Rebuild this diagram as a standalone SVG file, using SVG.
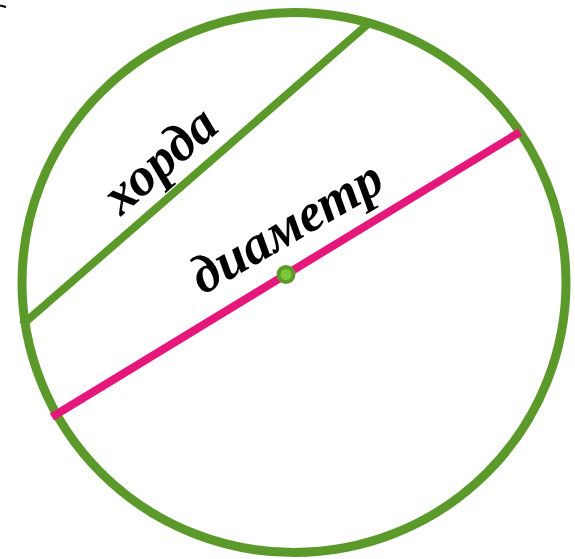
<svg xmlns="http://www.w3.org/2000/svg" width="575" height="559" viewBox="0 0 575 559">
<style>
.g{stroke:#5B9A2A;fill:none}
.lbl{font-family:"Liberation Serif","DejaVu Serif",serif;font-style:italic;font-weight:bold;font-size:54px;fill:#000;text-anchor:middle}
</style>
<rect width="575" height="559" fill="#fff"/>
<line x1="0" y1="5.5" x2="6" y2="7" stroke="#000" stroke-width="2"/>
<g id="circle"><ellipse class="g" cx="294" cy="282.5" rx="272" ry="270" stroke-width="9"/></g>
<g id="connectors">
<line id="chord" class="g" x1="22" y1="325" x2="368" y2="24" stroke-width="8"/>
<line id="diameter" x1="52" y1="417" x2="520" y2="132" stroke="#E6177A" stroke-width="8"/>
</g>
<g id="center"><circle cx="286" cy="274.5" r="7.5" fill="#7DC63A" stroke="#5B9A2A" stroke-width="4"/></g>
<g id="label-chord"><text class="lbl" transform="translate(171,173) rotate(-41)">хорда</text></g>
<g id="label-diameter"><text class="lbl" transform="translate(295,242) rotate(-30)">диаметр</text></g>
</svg>
